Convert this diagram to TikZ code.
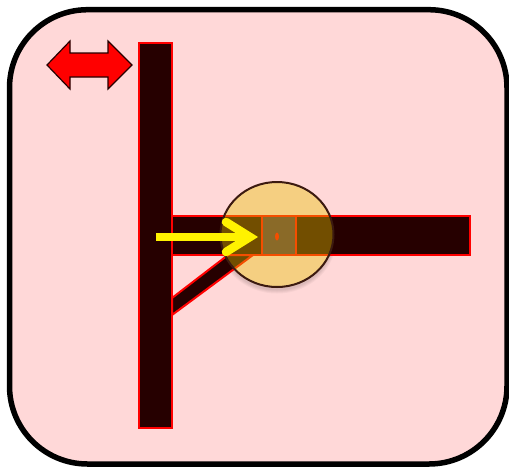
\documentclass[tikz,border=0pt]{standalone}
\usetikzlibrary{arrows.meta, positioning, shapes.geometric}
\definecolor{framepink}{HTML}{FFD8D8}
\definecolor{bardark}{HTML}{260000}
\definecolor{hubgold}{RGB}{230,195,0}
\definecolor{hubrim}{HTML}{3C1A10}
\definecolor{cellfill}{HTML}{4D2F43}
\tikzset{
  bar/.style={draw=red, fill=bardark, line width=2pt},
  hub/.style={ellipse, minimum width=113pt, minimum height=105pt, inner sep=0pt},
}
\begin{document}
\begin{tikzpicture}[x=1pt, y=-1pt]
\useasboundingbox (0,0) rectangle (509,467);
% Frame
\draw[line width=5.5pt, fill=framepink, rounded corners=78pt] (9.5,9.7) rectangle (507,464);
% Double arrow
\draw[fill=red, draw=black!85!red, line width=1.2pt, line join=miter]
  (47,65) -- (70,41) -- (70,53) -- (108,53) -- (108,41) -- (132,65)
  -- (108,89) -- (108,77) -- (70,77) -- (70,89) -- cycle;
% Soft shadow of the hub
\foreach \s in {0,1,2,3}
  \node[hub, fill=black, opacity=0.035, minimum width=113pt+2*\s pt, minimum height=105pt+2*\s pt] at (277,238) {};
\node[hub, fill=framepink] (hubbase) at (277,234.5) {};
% Bars
\draw[bar] (172,298) -- (228,255) -- (253,255) -- (172,315) -- cycle;
\draw[bar] (172,216) rectangle (470,255);
\draw[bar] (138.5,42.5) rectangle (172,428);
% Cell under the hub
\draw[bar, fill=cellfill] (262,216) rectangle (296,255);
\node[ellipse, fill=red, inner sep=0pt, minimum width=4pt, minimum height=8pt] (dot) at (277,236.5) {};
% Hub
\node[hub, fill=hubgold, fill opacity=0.4, draw=hubrim, line width=2pt] (hub) at (277,234.5) {};
% Pushing arrow
\coordinate (pushstart) at (156,237);
\coordinate (pushtip) at (250,237);
\draw[yellow, line width=7.5pt] (pushstart) -- (pushtip);
\draw[yellow, line width=8.5pt, line cap=round, miter limit=10] (226,222) -- (pushtip) -- (226,252);
\end{tikzpicture}
\end{document}
